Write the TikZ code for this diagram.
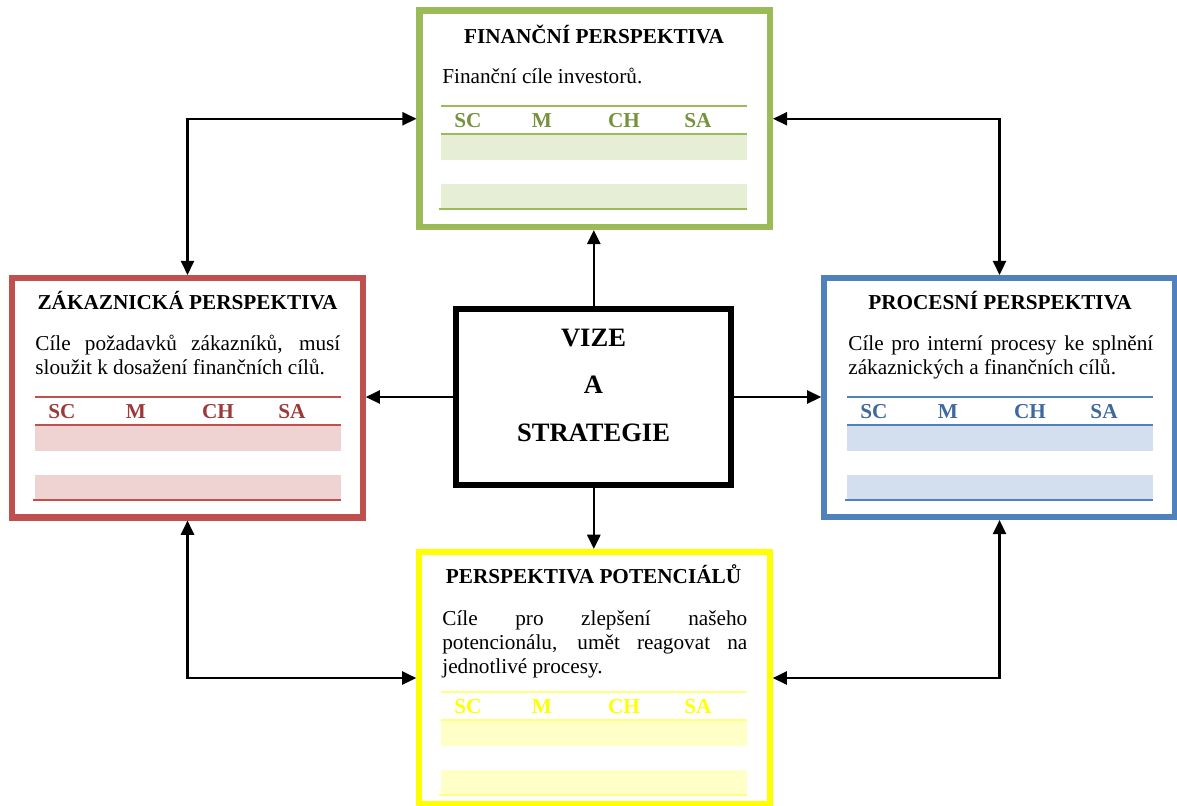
\documentclass[tikz,border=0pt]{standalone}
\usepackage{fontspec}
\setmainfont{Liberation Serif}
\usetikzlibrary{arrows.meta}

\tolerance=10000
\hyphenpenalty=10000

\definecolor{finline}{HTML}{9BBB59}
\definecolor{finhead}{HTML}{76923C}
\definecolor{finshade}{HTML}{E6EED5}
\definecolor{zakline}{HTML}{C0504D}
\definecolor{zakhead}{HTML}{9B3B39}
\definecolor{zakshade}{HTML}{EFD3D3}
\definecolor{procline}{HTML}{4F81BD}
\definecolor{prochead}{HTML}{3F68A0}
\definecolor{procshade}{HTML}{D3DFEE}
\definecolor{potline}{HTML}{FFFF00}
\definecolor{potrule}{HTML}{FFFF80}
\definecolor{pothead}{HTML}{FFFF00}
\definecolor{potshade}{HTML}{FFFFC8}

\tikzset{
  perbox/.style = {draw, line width = 3.5pt, minimum width = 198pt, inner sep = 0pt},
  ptitle/.style = {anchor = base, inner sep = 0pt, font = \fontsize{12}{14}\selectfont\bfseries},
  ptext/.style = {anchor = north west, inner sep = 0pt, text width = 172.3pt, align = justify,
    font = \fontsize{12}{13.6}\selectfont},
  thead/.style = {anchor = base, inner sep = 0pt, font = \fontsize{12}{14}\selectfont\bfseries},
  link/.style = {line width = 1.2pt, >={Triangle[length = 8pt, width = 7.5pt]}, ->},
  bilink/.style = {link, <->},
  pics/perstab/.style n args = {4}{code = {
    \fill[#3] (0, 28) rectangle (306, 54);
    \fill[#3] (0, 78) rectangle (306, 102);
    \draw[#1, line width = #4] (0, 0) -- (306, 0);
    \draw[#1, line width = #4] (0, 28) -- (306, 28);
    \draw[#1, line width = #4] (-2, 103) -- (306, 103);
    \foreach \lab/\px in {SC/27, M/101, CH/183, SA/257}
      \node[thead, text = #2] (-\lab) at (\px, 21.5) {\lab};
  }}
}

\begin{document}
\begin{tikzpicture}[x = 0.565pt, y = -0.565pt]
  \useasboundingbox (0, 0) rectangle (1177, 805);

  \node[perbox, draw = finline, minimum height = 122.3pt] (fin) at (594.75, 118.75) {};
  \node[perbox, draw = zakline, minimum height = 135.3pt] (zak) at (187.5, 397.75) {};
  \node[perbox, draw = procline, minimum height = 135pt] (proc) at (999.5, 397.5) {};
  \node[perbox, draw = potline, minimum height = 142.4pt] (pot) at (594.5, 678) {};
  \node[draw, line width = 3.4pt, minimum width = 155.4pt, minimum height = 99.1pt] (vize) at (593.8, 397) {};
  \node[align = center, font = \fontsize{15}{26.8}\selectfont\bfseries] (vizetext) at (593.5, 385.3) {VIZE\\A\\STRATEGIE};

  \node[ptitle] (fin-title) at (594, 43) {FINANČNÍ PERSPEKTIVA};
  \node[ptitle] (zak-title) at (187.5, 309) {ZÁKAZNICKÁ PERSPEKTIVA};
  \node[ptitle] (proc-title) at (1000, 309) {PROCESNÍ PERSPEKTIVA};
  \node[ptitle] (pot-title) at (593.5, 583) {PERSPEKTIVA POTENCIÁLŮ};

  \node[ptext] (fin-text) at (442, 66.2) {\strut Finanční cíle investorů.};
  \node[ptext] (zak-text) at (35, 333.2) {\strut Cíle požadavků zákazníků, musí\linebreak sloužit k dosažení finančních cílů.};
  \node[ptext] (proc-text) at (848, 333.2) {\strut Cíle pro interní procesy ke splnění\linebreak zákaznických a finančních cílů.};
  \node[ptext] (pot-text) at (442, 608.2) {\strut Cíle pro zlepšení našeho\linebreak potencionálu, umět reagovat na\linebreak jednotlivé procesy.};

  \pic (fintab) at (441, 106) {perstab = {finline}{finhead}{finshade}{1.1pt}};
  \pic (zaktab) at (35, 397) {perstab = {zakline}{zakhead}{zakshade}{1.1pt}};
  \pic (proctab) at (847, 397) {perstab = {procline}{prochead}{procshade}{1.1pt}};
  \pic (pottab) at (441, 692) {perstab = {potrule}{pothead}{potshade}{0.6pt}};

  \draw[link] (vize.north) -- (vize.north |- fin.south);
  \draw[link] (vize.south) -- (vize.south |- pot.north);
  \draw[link] (vize.west) -- (vize.west -| zak.east);
  \draw[link] (vize.east) -- (vize.east -| proc.west);
  \draw[bilink] (zak.north) |- (fin.west);
  \draw[bilink] (fin.east) -| (proc.north);
  \draw[bilink] (zak.south) |- (pot.west);
  \draw[bilink] (pot.east) -| (proc.south);
\end{tikzpicture}
\end{document}
